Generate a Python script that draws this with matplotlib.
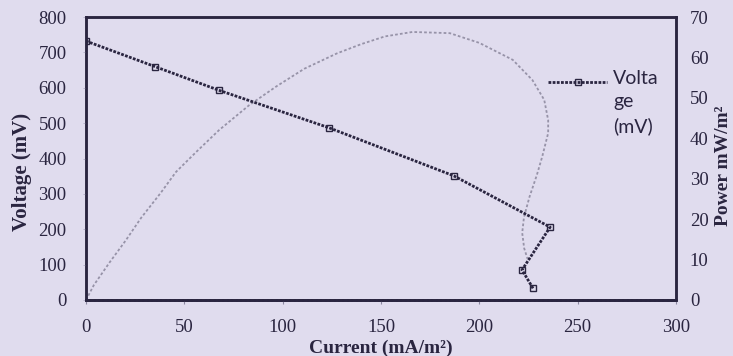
import matplotlib
matplotlib.use("Agg")
import matplotlib.pyplot as plt

# ---- data ----
current = [0, 35, 67.5, 123.5, 187, 236, 221.7, 227.3]
voltage = [732, 660, 593, 487, 351, 206, 85, 33]

power_current = [0, 4, 12, 20.3, 28, 38, 45.8, 56, 67.6, 83, 97, 111, 127.6,
                 140, 152, 166, 185, 200, 217, 227, 233, 235, 235, 232, 229.3,
                 225.5, 222.7, 221.8, 222.8, 224.5]
power_value = [0, 3.7, 9.3, 14.8, 20.3, 26.5, 31.7, 36.6, 42.0, 48.2, 52.9, 57.2,
               61.0, 63.3, 65.2, 66.3, 66.0, 63.6, 59.4, 54.4, 49.5, 44.5, 41.3,
               35.5, 31.0, 25.5, 20.5, 16.6, 12.8, 10.2]

x_ticks = [0, 50, 100, 150, 200, 250, 300]
v_ticks = [0, 100, 200, 300, 400, 500, 600, 700, 800]
p_ticks = [0, 10, 20, 30, 40, 50, 60, 70]

legend_label = "Volta\nge\n(mV)"
x_label = "Current (mA/m²)"
y_label = "Voltage (mV)"
y2_label = "Power mW/m²"

# ---- styling ----
bg = "#e0dcee"
ink = "#2a2540"
serif = ["Liberation Serif", "DejaVu Serif"]

fig = plt.figure(figsize=(7.33, 3.56), dpi=100, facecolor=bg)
ax = fig.add_axes([86/733, 1-300/356, (676-86)/733, (300-17)/356], facecolor=bg)
ax2 = ax.twinx()

ax.set_xlim(0, 300)
ax.set_ylim(0, 800)
ax2.set_ylim(0, 70)

# power curve (light grey dotted)
ax2.plot(power_current, power_value, color="#9793a8", lw=1.3,
         linestyle=(0, (1.5, 1.2)), zorder=2)

# voltage curve (dark dotted with hollow square markers)
ax.plot(current, voltage, color=ink, lw=2.0, linestyle=(0, (1, 0.5)),
        marker="s", markersize=5, markerfacecolor="none",
        markeredgecolor=ink, markeredgewidth=1.0, zorder=3)
ax.set_zorder(ax2.get_zorder() + 1)
ax.patch.set_visible(False)

# spines
for a in (ax, ax2):
    for s in ("left", "right", "top"):
        a.spines[s].set_color(ink)
        a.spines[s].set_linewidth(1.8)
    a.spines["bottom"].set_color(ink)
    a.spines["bottom"].set_linewidth(2.0)
    a.spines["bottom"].set_linestyle((0, (1, 0.6)))

ax.set_xticks(x_ticks)
ax.set_yticks(v_ticks)
ax2.set_yticks(p_ticks)

tick_font = dict(family=serif, size=13.5, color=ink)
ax.set_xticklabels([str(t) for t in x_ticks], **tick_font)
ax.set_yticklabels([str(t) for t in v_ticks], **tick_font)
ax2.set_yticklabels([str(t) for t in p_ticks], **tick_font)

ax.tick_params(axis="x", length=3, width=0.8, color="#8a86a0", pad=11)
ax.tick_params(axis="y", length=2, width=0.6, color="#b0acc4", pad=12)
ax2.tick_params(axis="y", length=0, pad=10)

# axis labels
fig.text(381/733, 1-348/356, x_label, ha="center", va="center",
         family=serif, size=14, weight="bold", color=ink)
fig.text(22/733, 1-172/356, y_label, ha="center", va="center", rotation=90,
         family=serif, size=15, weight="bold", color=ink)
fig.text(724/733, 1-166/356, y2_label, ha="center", va="center", rotation=90,
         family=serif, size=14, weight="bold", color=ink)

# legend (manual, inside plot)
lx0, lx1, ly = (548-86)/590, (607-86)/590, (300-82)/283
ax.plot([lx0, lx1], [ly, ly], transform=ax.transAxes, color=ink, lw=2.0,
        linestyle=(0, (1, 0.5)), clip_on=False)
ax.plot([(lx0+lx1)/2], [ly], transform=ax.transAxes, marker="s", markersize=5,
        markerfacecolor="none", markeredgecolor=ink, markeredgewidth=1.0)
ax.text((613-86)/590, (300-70)/283, legend_label, transform=ax.transAxes,
        ha="left", va="top", family=["Lato", "DejaVu Sans"], size=14,
        color=ink, linespacing=1.45)

fig.savefig("out.png", dpi=100, facecolor=bg)
